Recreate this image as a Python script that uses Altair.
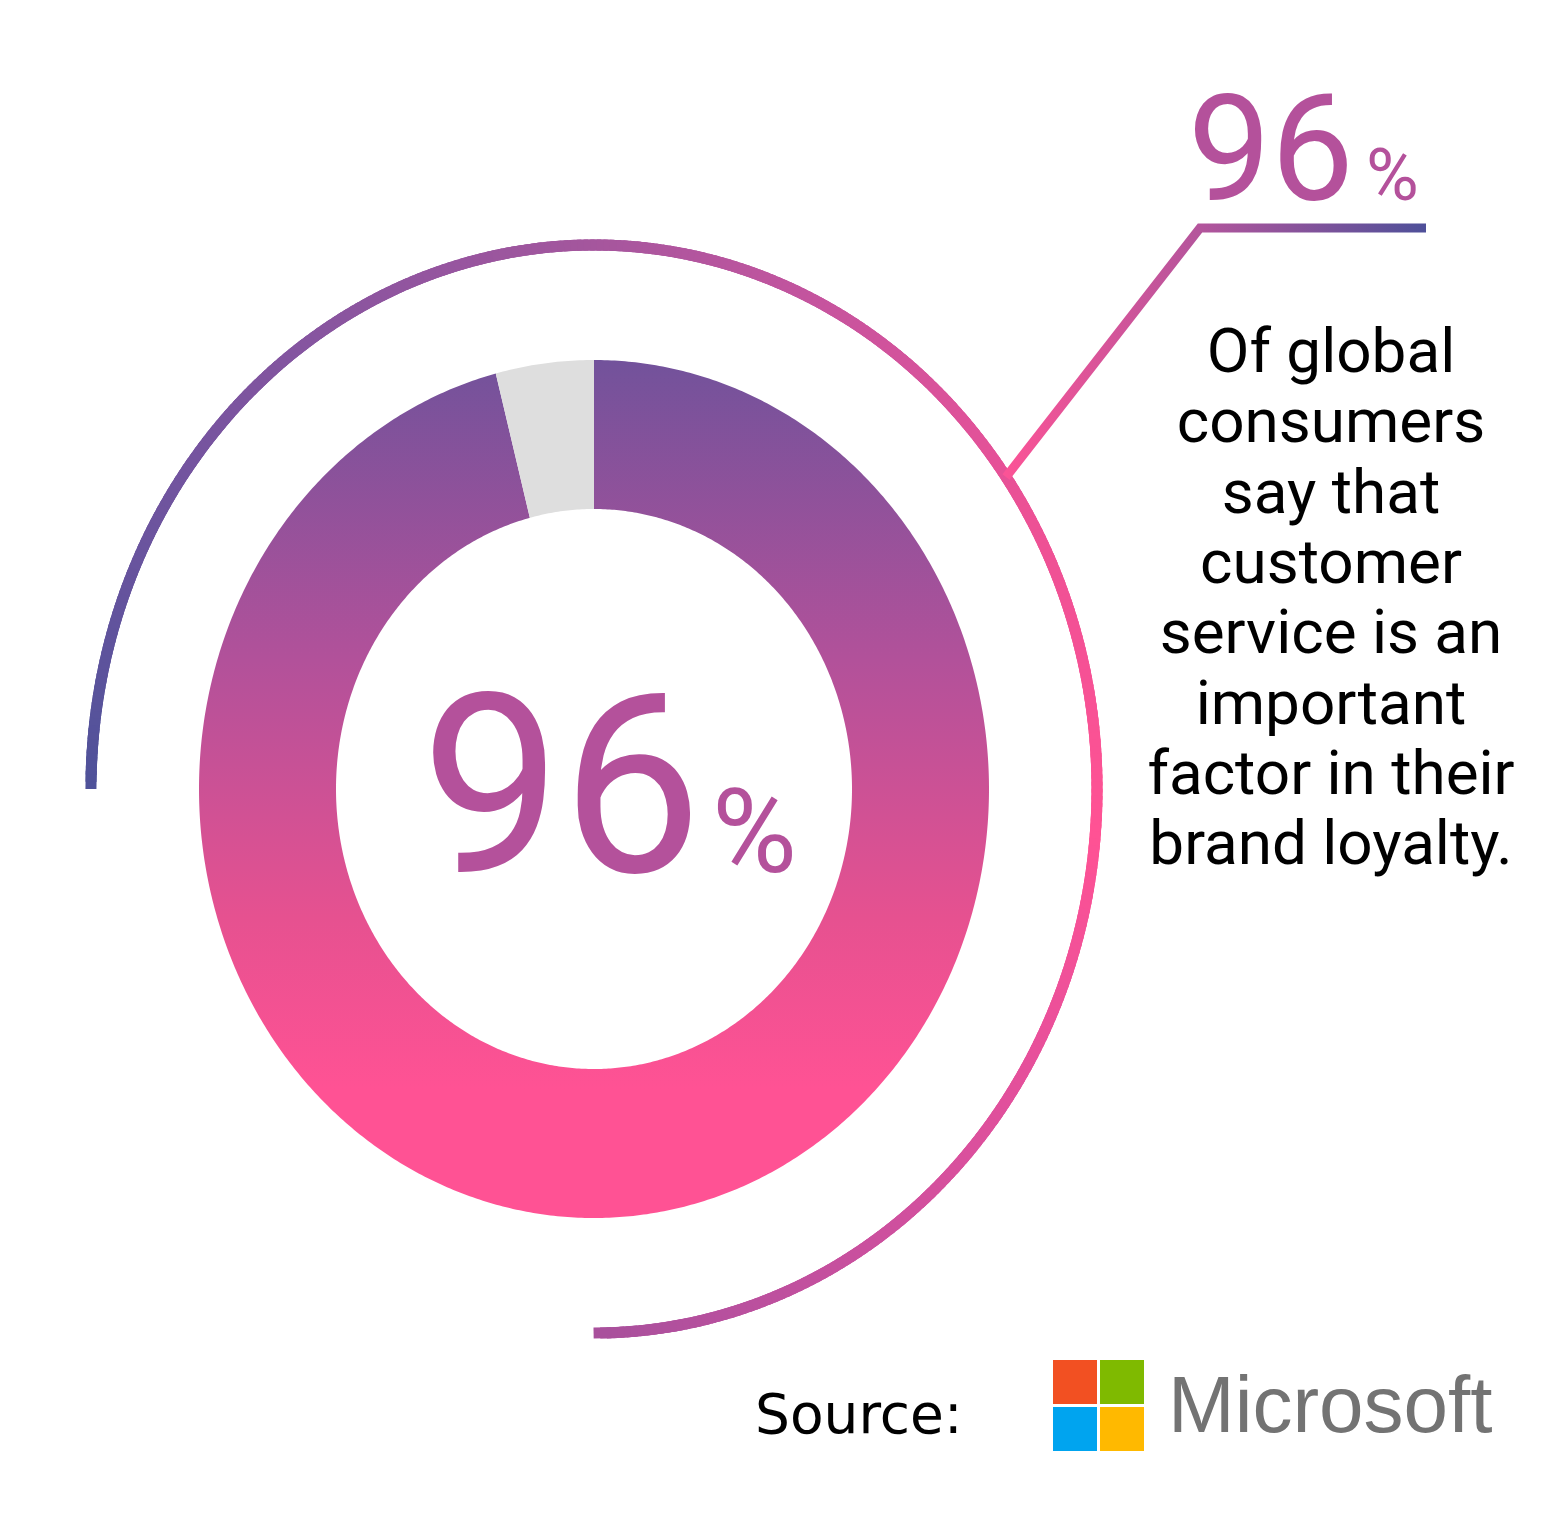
import altair as alt
import numpy as np
import pandas as pd

# ---- chart values -------------------------------------------------------
share_labels = ["Say it matters", "Rest"]
share_values = [96, 4]
statement_lines = [
    "Of global",
    "consumers",
    "say that",
    "customer",
    "service is an",
    "important",
    "factor in their",
    "brand loyalty.",
]
source_label = "Source:"
source_name = "Microsoft"
logo_colors = ["#f25022", "#7fba00", "#00a4ef", "#ffb900"]

# ---- layout -------------------------------------------------------------
W, H = 1542, 1532
CX, CY = 594, 789                 # ring centre
RING_OUT = (395, 429)             # ellipse radii (x, y)
RING_IN = (258, 280)
HALO = (503, 544)
HALO_W = 11
ACCENT = "#b4519b"
REST_GREY = "#dedede"
FONT = "Roboto"

xs = alt.Scale(domain=[0, W], nice=False, zero=False)
ys = alt.Scale(domain=[0, H], nice=False, zero=False, reverse=True)


def ex(rx, t):
    return CX + rx * np.sin(np.radians(t))


def ey(ry, t):
    return CY - ry * np.cos(np.radians(t))


# ---- ring slices (clockwise from 12 o'clock) -----------------------------
total = sum(share_values)
ring_frames = []
start = 0.0
for label, v in zip(share_labels, share_values):
    end = start + 360.0 * v / total
    ts = np.linspace(start, end, max(int((end - start) * 2), 12))
    px = np.concatenate([ex(RING_OUT[0], ts), ex(RING_IN[0], ts[::-1])])
    py = np.concatenate([ey(RING_OUT[1], ts), ey(RING_IN[1], ts[::-1])])
    ring_frames.append(pd.DataFrame({"label": label, "x": px, "y": py,
                                     "k": np.arange(len(px))}))
    start = end

ring_grad = alt.LinearGradient(
    gradient="linear", x1=0, x2=0, y1=0, y2=1,
    stops=[
        alt.GradientStop(offset=0.0, color="#72529b"),
        alt.GradientStop(offset=0.35, color="#b2519a"),
        alt.GradientStop(offset=0.65, color="#e65190"),
        alt.GradientStop(offset=0.85, color="#ff5294"),
        alt.GradientStop(offset=1.0, color="#ff5294"),
    ],
)

main_slice = alt.Chart(ring_frames[0]).mark_line(
    filled=True, color=ring_grad, strokeWidth=0
).encode(
    x=alt.X("x:Q", scale=xs, axis=None),
    y=alt.Y("y:Q", scale=ys, axis=None),
    order="k:Q",
)
rest_slice = alt.Chart(ring_frames[1]).mark_line(
    filled=True, color=REST_GREY, strokeWidth=0
).encode(
    x=alt.X("x:Q", scale=xs, axis=None),
    y=alt.Y("y:Q", scale=ys, axis=None),
    order="k:Q",
)

# ---- decorative halo arc (9 o'clock -> over the top -> 6 o'clock) -------
# short chords with square caps so neighbouring pieces overlap without seams;
# the ends are pulled in by half a stroke so the caps finish on the arc ends
trim = np.degrees(HALO_W / 2 / HALO[1])
ht = np.linspace(-90 + trim, 180 - trim, 361)
halo_df = pd.DataFrame({
    "t": (ht[:-1] + ht[1:]) / 2,
    "x": ex(HALO[0], ht[:-1]), "y": ey(HALO[1], ht[:-1]),
    "x2": ex(HALO[0], ht[1:]), "y2": ey(HALO[1], ht[1:]),
})
halo = alt.Chart(halo_df).mark_rule(strokeWidth=HALO_W, strokeCap="square").encode(
    x=alt.X("x:Q", scale=xs, axis=None),
    y=alt.Y("y:Q", scale=ys, axis=None),
    x2="x2:Q",
    y2="y2:Q",
    color=alt.Color(
        "t:Q", legend=None,
        scale=alt.Scale(domain=[-90, 0, 60, 95, 180],
                        range=["#4e5299", "#a4569d", "#ec5195", "#ff5294", "#a8509c"]),
    ),
)

# ---- leader line to the callout ------------------------------------------
lead_t = 55
leader_df = pd.DataFrame({
    "x": [ex(HALO[0], lead_t), 1200, 1426],
    "y": [ey(HALO[1], lead_t), 228, 228],
    "k": [0, 1, 2],
})
leader_grad = alt.LinearGradient(
    gradient="linear", x1=0, x2=1, y1=0, y2=0,
    stops=[
        alt.GradientStop(offset=0.0, color="#fb5396"),
        alt.GradientStop(offset=0.46, color="#b4559c"),
        alt.GradientStop(offset=1.0, color="#4e5099"),
    ],
)
leader = alt.Chart(leader_df).mark_line(
    color=leader_grad, strokeWidth=9, strokeJoin="miter", strokeCap="butt"
).encode(
    x=alt.X("x:Q", scale=xs, axis=None),
    y=alt.Y("y:Q", scale=ys, axis=None),
    order="k:Q",
)

# ---- text -----------------------------------------------------------------
pct = str(share_values[0])


def text_layer(df, **mark):
    return alt.Chart(df).mark_text(baseline="alphabetic", **mark).encode(
        x=alt.X("x:Q", scale=xs, axis=None),
        y=alt.Y("y:Q", scale=ys, axis=None),
        text="text:N",
    )


big_num = text_layer(pd.DataFrame({"text": [pct], "x": [702], "y": [872]}),
                     align="right", font=FONT, fontSize=250, color=ACCENT)
big_pct = text_layer(pd.DataFrame({"text": ["%"], "x": [712], "y": [872]}),
                     align="left", font=FONT, fontSize=116, color=ACCENT)
call_num = text_layer(pd.DataFrame({"text": [pct], "x": [1354], "y": [200]}),
                      align="right", font=FONT, fontSize=148, color=ACCENT)
call_pct = text_layer(pd.DataFrame({"text": ["%"], "x": [1366], "y": [200]}),
                      align="left", font=FONT, fontSize=72, color=ACCENT)

statement_df = pd.DataFrame({
    "text": statement_lines,
    "x": 1331,
    "y": [372 + 70.3 * i for i in range(len(statement_lines))],
})
statement = text_layer(statement_df, align="center", font=FONT,
                       fontSize=62, color="#000000")

source = text_layer(pd.DataFrame({"text": [source_label], "x": [755], "y": [1433]}),
                    align="left", font="DejaVu Sans", fontSize=55, color="#000000")
brand = text_layer(pd.DataFrame({"text": [source_name], "x": [1168], "y": [1432]}),
                   align="left", font="Liberation Sans", fontSize=80, color="#737373")

# ---- four-square logo -------------------------------------------------------
SQ, GAP, LX, LY = 44, 3, 1053, 1360
logo_df = pd.DataFrame({
    "c": logo_colors,
    "x": [LX + (i % 2) * (SQ + GAP) for i in range(4)],
    "y": [LY + (i // 2) * (SQ + GAP) for i in range(4)],
})
logo_df["x2"] = logo_df["x"] + SQ
logo_df["y2"] = logo_df["y"] + SQ
logo = alt.Chart(logo_df).mark_rect().encode(
    x=alt.X("x:Q", scale=xs, axis=None),
    y=alt.Y("y:Q", scale=ys, axis=None),
    x2="x2:Q",
    y2="y2:Q",
    color=alt.Color("c:N", scale=None),
)

chart = alt.layer(
    halo, leader, main_slice, rest_slice,
    big_num, big_pct, call_num, call_pct, statement, source, brand, logo,
).properties(
    width=W, height=H, padding=0, background="white",
    autosize=alt.AutoSizeParams(type="none"),
).configure_view(stroke=None)

chart.save("out.html", embed_options={"renderer": "svg", "actions": False})
